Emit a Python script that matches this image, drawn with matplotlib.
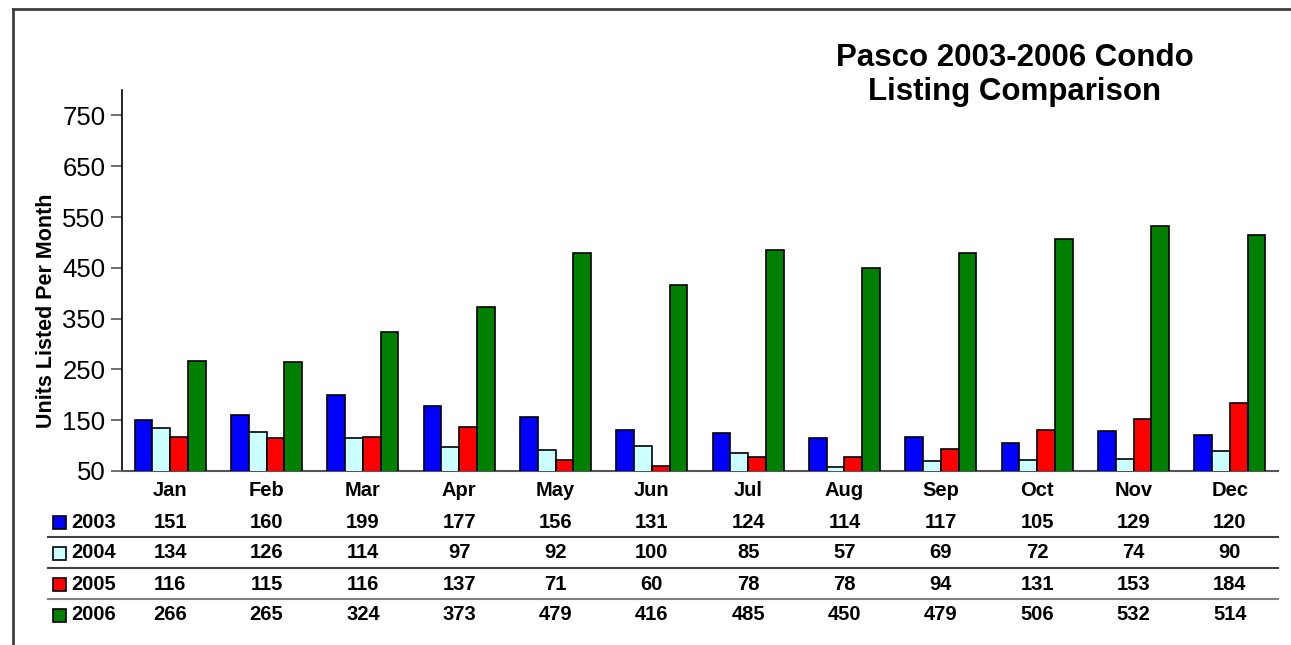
import matplotlib
matplotlib.use('Agg')
import matplotlib.pyplot as plt
import matplotlib.patches as mpatches
from matplotlib.transforms import blended_transform_factory
import numpy as np

plt.rcParams['font.family'] = ['Liberation Sans', 'DejaVu Sans']

# data
months = ['Jan', 'Feb', 'Mar', 'Apr', 'May', 'Jun', 'Jul', 'Aug', 'Sep', 'Oct', 'Nov', 'Dec']
years = ['2003', '2004', '2005', '2006']
v2003 = [151, 160, 199, 177, 156, 131, 124, 114, 117, 105, 129, 120]
v2004 = [134, 126, 114, 97, 92, 100, 85, 57, 69, 72, 74, 90]
v2005 = [116, 115, 116, 137, 71, 60, 78, 78, 94, 131, 153, 184]
v2006 = [266, 265, 324, 373, 479, 416, 485, 450, 479, 506, 532, 514]
series = [v2003, v2004, v2005, v2006]
colors = ['#0000FF', '#CCFFFF', '#FF0000', '#008000']

W, H = 1291, 645
fig = plt.figure(figsize=(W / 100, H / 100), dpi=100)
ax = fig.add_axes([122 / W, 1 - 471 / H, (1278 - 122) / W, (471 - 90) / H])

x = np.arange(len(months))
bw = 0.185
for i, vals in enumerate(series):
    ax.bar(x + (i - 1.5) * bw, vals, bw, color=colors[i], edgecolor='black', linewidth=1.2, zorder=3)

ax.set_xlim(-0.5, len(months) - 0.5)
ax.set_ylim(50, 800)
ax.set_yticks(np.arange(50, 751, 100))
ax.tick_params(axis='y', labelsize=18.5, length=8, width=1.2, color='#555555', direction='out', pad=4)
ax.set_xticks(x)
ax.set_xticklabels(months, fontsize=14.5, fontweight='bold')
ax.tick_params(axis='x', length=0, pad=7)
for s in ['top', 'right']:
    ax.spines[s].set_visible(False)
ax.spines['left'].set_color('black')
ax.spines['left'].set_linewidth(1.2)
ax.spines['bottom'].set_color('#555555')
ax.spines['bottom'].set_linewidth(1.5)

fig.text(47 / W, 1 - 311 / H, 'Units Listed Per Month', rotation=90, fontsize=15.5,
         fontweight='bold', ha='center', va='center')

fig.text(1015 / W, 1 - 75 / H, 'Pasco 2003-2006 Condo\nListing Comparison', fontsize=22.5,
         fontweight='bold', ha='center', va='center', linespacing=1.2)

# data table below the chart
row_y = [522, 553, 584, 615]
sep_y = [537, 568, 599]
sep_c = ['#404040', '#404040', '#808080']
for yy, c in zip(sep_y, sep_c):
    fig.add_artist(plt.Line2D([48 / W, 1278 / W], [1 - yy / H, 1 - yy / H], color=c, linewidth=1.5))

tr = blended_transform_factory(ax.transData, fig.transFigure)
for yr, vals, c, yy in zip(years, series, colors, row_y):
    yf = 1 - yy / H
    fig.add_artist(mpatches.Rectangle((53 / W, 1 - (yy + 6.5) / H), 13 / W, 13 / H,
                                      facecolor=c, edgecolor='black', linewidth=1.2,
                                      transform=fig.transFigure))
    fig.text(71 / W, yf, yr, fontsize=14.5, fontweight='bold', ha='left', va='center')
    for xi, v in zip(x, vals):
        ax.text(xi, yf, str(v), transform=tr, fontsize=14.5, fontweight='bold',
                ha='center', va='center', clip_on=False)

# outer frame (top and left edges visible)
fig.add_artist(plt.Line2D([13 / W, 13 / W], [0, 1 - 9 / H], color='#404040', linewidth=2))
fig.add_artist(plt.Line2D([13 / W, 1], [1 - 9 / H, 1 - 9 / H], color='#404040', linewidth=2))

fig.savefig('out.png', dpi=100)
